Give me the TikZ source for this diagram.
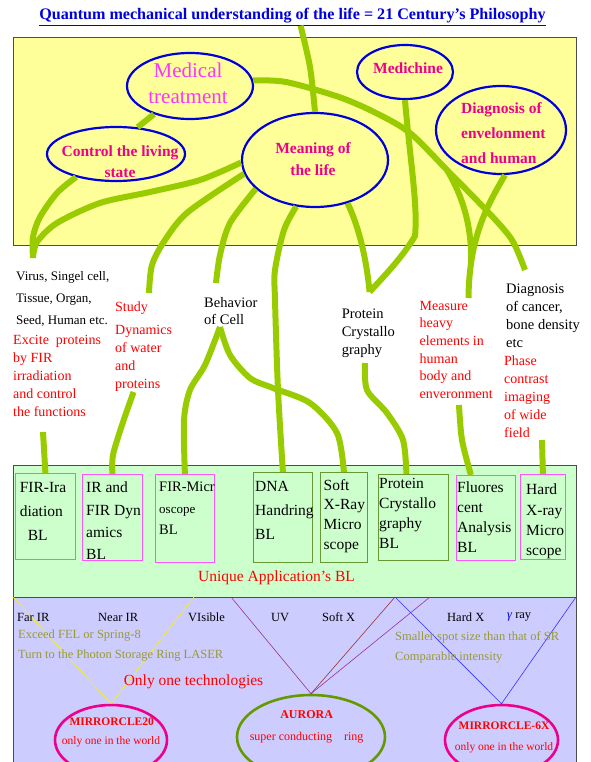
\documentclass[tikz,border=0pt]{standalone}
\usepackage{fontspec}
\setmainfont{Liberation Serif}
\usetikzlibrary{shapes.geometric,calc}
\definecolor{vinegreen}{HTML}{99CC00}
\definecolor{panelyellow}{HTML}{FFFF99}
\definecolor{panelgreen}{HTML}{CCFFCC}
\definecolor{panelblue}{HTML}{CCCCFF}
\definecolor{olivetext}{HTML}{999933}
\definecolor{pinkbox}{HTML}{FF55FF}
\definecolor{greenbox}{HTML}{669933}
\definecolor{auroragreen}{HTML}{669900}
\definecolor{bubbleblue}{HTML}{0000DD}
\definecolor{pinktext}{HTML}{FF33FF}
\definecolor{lilac}{HTML}{993399}
\definecolor{rust}{HTML}{993333}
\newcommand{\txtsize}[2]{\fontsize{#1}{#2}\selectfont}
\tikzset{x=1pt, y=-1pt,
    panel/.style={draw=black!70, line width=0.8pt},
    bubble/.style={draw=bubbleblue, line width=2.2pt, ellipse, inner sep=0pt},
    ring/.style={ellipse, line width=2.6pt, inner sep=0pt},
    vine/.style={draw=vinegreen, line width=6pt},
    tag/.style={anchor=north west, inner sep=0pt, align=left},
    band/.style={anchor=west, inner sep=0pt, font=\txtsize{12.5}{15}},
    blbox/.style={anchor=north west, line width=0.8pt, inner sep=0pt},
    bubbletext/.style={text=magenta, font=\bfseries\txtsize{15.5}{22}, align=center, inner sep=0pt},
    ray/.style={line width=0.6pt}}

\begin{document}
\begin{tikzpicture}
    \useasboundingbox (0,0) rectangle (590,762);
    \clip (0,0) rectangle (590,762);
    \filldraw[panel, fill=panelyellow] (13,37) rectangle (576,245);
    \filldraw[panel, fill=panelgreen] (13,465) rectangle (576,597);
    \filldraw[panel, fill=panelblue] (13,597) rectangle (576,770);

    \node[inner sep=0pt, text=bubbleblue, font=\bfseries\txtsize{16.1}{18}] (title) at (292.5,17)
        {\underline{Quantum mechanical understanding of the life = 21 Century's Philosophy}};

    \node[bubble, minimum width=126pt, minimum height=66pt] (med) at (190,86) {};
    \node[bubbletext, text=pinktext, font=\txtsize{21}{26}] (medtext) at (188,83) {Medical\\treatment};
    \node[bubble, minimum width=96pt, minimum height=54pt] (medi) at (405,72) {};
    \node[bubbletext] (meditext) at (408,68) {Medichine};
    \node[bubble, minimum width=138pt, minimum height=54pt] (ctl) at (116,154) {};
    \node[bubbletext, font=\bfseries\txtsize{15.5}{21}] (ctltext) at (120,161.5) {Control the living\\state};
    \node[bubble, minimum width=146pt, minimum height=94pt] (mean) at (315,160) {};
    \node[bubbletext] (meantext) at (313,159) {Meaning of\\the life};
    \node[bubble, minimum width=130pt, minimum height=88pt] (diag) at (501,130) {};
    \node[tag, text=magenta, font=\bfseries\txtsize{15.5}{25}] (diagtext) at (461,102) {Diagnosis of\\envelonment\\and human};

    \node[tag, font=\txtsize{13}{22}] (virus) at (16,271) {Virus, Singel cell,\\Tissue, Organ,\\Seed, Human etc.};
    \node[tag, text=red, font=\txtsize{14}{18}] (excite) at (13,335) {Excite\ \ proteins\\by FIR\\irradiation\\and control\\the functions};
    \node[tag, text=red, font=\txtsize{14}{18}] (study) at (115,302) {Study\\[5pt]Dynamics\\of water\\and\\proteins};
    \node[tag, font=\txtsize{14.5}{17.5}] (cell) at (204,297) {Behavior\\of Cell};
    \node[tag, font=\txtsize{14.5}{18}] (protein) at (341.6,309) {Protein\\Crystallo\\graphy};
    \node[tag, text=red, font=\txtsize{14}{17.6}] (measure) at (419.5,301) {Measure\\heavy\\elements in\\human\\body and\\enveronment};
    \node[tag, font=\txtsize{14.5}{18}] (cancer) at (506,284) {Diagnosis\\of cancer,\\bone density\\etc};
    \node[tag, text=red, font=\txtsize{14}{17.8}] (phase) at (504,356) {Phase\\contrast\\imaging\\of wide\\field};

    \node[blbox, draw=pinkbox, minimum width=60pt, minimum height=86pt] (fira) at (15,473) {};
    \node[blbox, draw=pinkbox, minimum width=60pt, minimum height=86pt] (irdyn) at (82,474) {};
    \node[blbox, draw=pinkbox, minimum width=59pt, minimum height=88pt] (firmic) at (155,474) {};
    \node[blbox, draw=greenbox, minimum width=59pt, minimum height=90pt] (dna) at (253,472) {};
    \node[blbox, draw=greenbox, minimum width=47pt, minimum height=90pt] (soft) at (320,472) {};
    \node[blbox, draw=greenbox, minimum width=70pt, minimum height=86pt] (prot) at (378,474) {};
    \node[blbox, draw=pinkbox, minimum width=59pt, minimum height=85pt] (fluo) at (456,475) {};
    \node[blbox, draw=pinkbox, minimum width=45pt, minimum height=85pt] (hard) at (520,474) {};
    \node[tag, font=\txtsize{15.5}{24}] (firatext) at (19.6,482) {FIR-Ira\\diation\\\hspace{8pt}BL};
    \node[tag, font=\txtsize{15.5}{22.3}] (irdyntext) at (86,482) {IR and\\FIR Dyn\\amics\\BL};
    \node[tag, font=\txtsize{14.5}{21.5}] (firmictext) at (159,482) {FIR-Micr\\{\txtsize{13}{21.5}oscope}\\BL};
    \node[tag, font=\txtsize{15.5}{24}] (dnatext) at (255,481) {DNA\\Handring\\BL};
    \node[tag, font=\txtsize{15.5}{19.7}] (softtext) at (323.5,479) {Soft\\X-Ray\\Micro\\scope};
    \node[tag, font=\txtsize{15.5}{20}] (prottext) at (379,478) {Protein\\Crystallo\\graphy\\BL};
    \node[tag, font=\txtsize{15.5}{20}] (fluotext) at (457,482) {Fluores\\cent\\Analysis\\BL};
    \node[tag, font=\txtsize{15.5}{20.3}] (hardtext) at (526,484) {Hard\\X-ray\\Micro\\scope};
    \node[text=red, font=\txtsize{15.5}{18}] (unique) at (276.5,578) {Unique Application's BL};

    \coordinate (titlefoot) at ($(title.south)+(8,0)$);
    \coordinate (virustop) at ($(virus.north west)+(17,-13)$);
    \coordinate (studytop) at ($(study.north west)+(34,-9)$);
    \coordinate (celltop) at ($(cell.north west)+(12,-14)$);
    \coordinate (proteintop) at ($(protein.north west)+(28,-17)$);
    \coordinate (measuretop) at ($(measure.north west)+(49,-3)$);
    \coordinate (cancertop) at ($(cancer.north west)+(19,-14)$);
    \coordinate (excitebot) at ($(excite.north west)+(30,97)$);
    \coordinate (studybot) at ($(study.north west)+(18.6,90)$);
    \coordinate (cellbot) at ($(cell.north west)+(16,30)$);
    \coordinate (proteinbot) at ($(protein.north west)+(23.4,54)$);
    \coordinate (measurebot) at ($(measure.north west)+(39.5,104)$);
    \coordinate (phasebot) at ($(phase.north west)+(38,84)$);
    \coordinate (prottop) at ($(prot.north)+(-7,0)$);
    \coordinate (fluotop) at ($(fluo.north)+(-15,0)$);
    \coordinate (fork) at (447,170);

    \draw[vine] plot[smooth] coordinates {(titlefoot) (310,67) (mean.north)};
    \draw[vine] (med.218) -- (ctl.51);
    \draw[vine] plot[smooth] coordinates {(med.5) (286,82) (339,97) (376,113) (410,133) (fork) (489,213) (512,240) (cancertop)};
    \draw[vine] (medi.south) .. controls (410,160) and (418,205) .. (415,236) .. controls (402,258) and (385,275) .. (proteintop);
    \draw[vine] (mean.307) .. controls (358,225) and (366,255) .. (proteintop);
    \draw[vine] (diag.275) .. controls (489,203) and (469,235) .. (measuretop);
    \draw[vine] (fork) .. controls (462,195) and (472,225) .. (471,262);
    \draw[vine] plot[smooth] coordinates {(mean.182) (200,180) (150,192) (100,203) (57,223) (37,242) (virustop)};
    \draw[vine] plot[smooth] coordinates {(ctl.210) (57,193) (40,217) (33,237) (virustop)};
    \draw[vine] plot[smooth] coordinates {(mean.191) (188,212) (165,240) (152,265) (studytop)};
    \draw[vine] plot[smooth] coordinates {(mean.206) (230,223) (220,255) (celltop)};
    \draw[vine] plot[smooth] coordinates {(mean.248) (284,230) (275,270) (275,300) (278,390) (dna.north)};
    \draw[vine] plot[smooth] coordinates {(cellbot) (205,365) (190,390) (184,420) (firmic.north)};
    \draw[vine] plot[smooth] coordinates {(cellbot) (230,355) (250,378) (273,388) (310,403) (337,433) (soft.north)};
    \draw[vine] plot[smooth] coordinates {(studybot) (122,425) (113,455) (irdyn.north)};
    \draw[vine] (excitebot) -- (fira.north);
    \draw[vine] plot[smooth] coordinates {(proteinbot) (367,390) (387,413) (403,440) (prottop)};
    \draw[vine] plot[smooth] coordinates {(measurebot) (462,440) (fluotop)};
    \draw[vine] (phasebot) -- (hard.north);

    \node[ring, draw=magenta, minimum width=112pt, minimum height=70pt] (mc20) at (111,740) {};
    \node[ring, draw=auroragreen, minimum width=148pt, minimum height=84pt] (aurora) at (311,737) {};
    \node[ring, draw=magenta, minimum width=113pt, minimum height=70pt] (mc6x) at (501.5,740) {};
    \coordinate (e1) at (13,597);
    \coordinate (e2) at (194,597);
    \coordinate (e3) at (231,597);
    \coordinate (e4) at (395,597);
    \coordinate (e5) at (430,597);
    \coordinate (e6) at (576,597);
    \draw[ray, yellow] (mc20.north) -- (e1) (mc20.north) -- (e2);
    \draw[ray, lilac] (aurora.north) -- (e3) (aurora.north) -- (e5);
    \draw[ray, rust] (aurora.north) -- (e4);
    \draw[ray, blue!80] (mc6x.north) -- (e4) (mc6x.north) -- (e6);

    \node[band] (farir) at (17,617) {Far IR};
    \node[band] (nearir) at (98,617) {Near IR};
    \node[band] (visible) at (188,617) {VIsible};
    \node[band] (uv) at (271,617) {UV};
    \node[band] (softx) at (322,617) {Soft X};
    \node[band] (hardx) at (447,617) {Hard X};
    \node[band] (gamma) at (507,617) {\textcolor{bubbleblue}{\itshape γ} ray};
    \node[band, text=olivetext] (fel) at (18,636) {Exceed FEL or Spring-8};
    \node[band, text=olivetext] (turn) at (18,656) {Turn to the Photon Storage Ring LASER};
    \node[band, text=olivetext] (spot) at (395,637) {Smaller spot size than that of SR};
    \node[band, text=olivetext] (compar) at (395,658) {Comparable intensity};
    \node[text=red, font=\txtsize{15.5}{18}] (onlyone) at (193.5,682) {Only one technologies};
    \node[text=red, font=\bfseries\txtsize{11.5}{14}] (mc20name) at (111.7,722) {MIRRORCLE20};
    \node[text=red, font=\txtsize{11.5}{14}] (mc20note) at (111,742) {only one in the world};
    \node[text=red, font=\bfseries\txtsize{12}{14}] (auroraname) at (306.6,715) {AURORA};
    \node[text=red, font=\txtsize{12}{14}] (auroranote) at (306.6,738) {super conducting\ \ \ \ ring};
    \node[text=red, font=\bfseries\txtsize{11.5}{14}] (mc6xname) at (504,726) {MIRRORCLE-6X};
    \node[text=red, font=\txtsize{11.5}{14}] (mc6xnote) at (504,748) {only one in the world};
\end{tikzpicture}
\end{document}
